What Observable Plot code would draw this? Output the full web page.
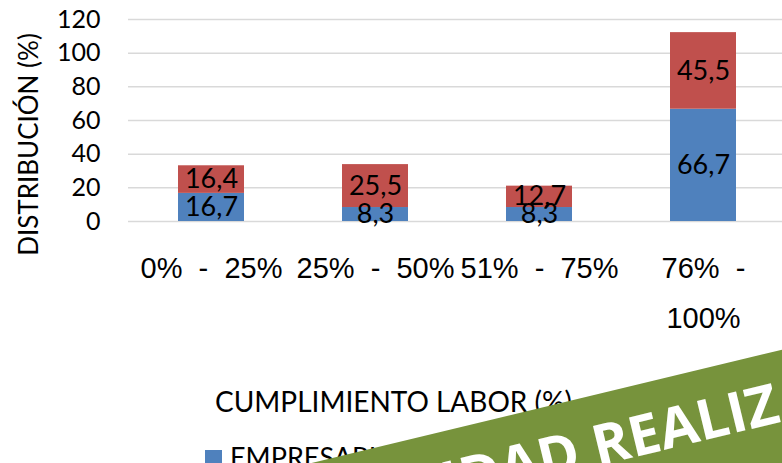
<!DOCTYPE html>
<html>
<head>
<meta charset="utf-8">
<script src="https://cdn.jsdelivr.net/npm/d3@7"></script>
<script src="https://cdn.jsdelivr.net/npm/@observablehq/plot@0.6"></script>
<style>
  html, body { margin: 0; padding: 0; background: #fff; }
  #wrap { position: relative; width: 782px; height: 463px; overflow: hidden; background: #fff; }
  #chart { position: absolute; left: 0; top: 0; }
  .legend { position: absolute; top: 440px; left: 205px; display: flex; align-items: center; font-family: Lato, sans-serif; font-size: 27px; color: #000; white-space: nowrap; }
  .legend .sw { width: 17px; height: 17px; margin-right: 8px; margin-top: 4px; }
  .legend .item { display: flex; align-items: center; margin-right: 26px; }
  .banner { position: absolute; left: 100px; top: 513.6px; width: 1000px; height: 220px; background: #77933c; transform: rotate(-13.55deg); transform-origin: 0 0; }
  .banner span { position: absolute; top: 20px; font-family: "Open Sans", sans-serif; font-weight: 700; font-size: 56px; line-height: 56px; color: #fff; white-space: nowrap; }
</style>
</head>
<body>
<div id="wrap">
  <div id="chart"></div>
  <div class="legend" id="legend"></div>
  <div class="banner"><span style="right:520px">ACTIVIDAD</span><span style="left:495px">REALIZADA</span></div>
</div>
<script>
const categories = ["0% - 25%", "25% - 50%", "51% - 75%", "76% - 100%"];
const tickLabels = ["0%\u00a0\u00a0-\u00a0\u00a025%", "25%\u00a0\u00a0-\u00a0\u00a050%", "51%\u00a0\u00a0-\u00a0\u00a075%", "76%\u00a0\u00a0-\n100%"];
const seriesNames = ["EMPRESARIOS", "EMPLEADOS"];
const empresarios = [16.7, 8.3, 8.3, 66.7];
const empleados = [16.4, 25.5, 12.7, 45.5];
const yTicks = [0, 20, 40, 60, 80, 100, 120];
const colors = ["#4f81bd", "#c0504d"];
const yTitle = "DISTRIBUCIÓN (%)";
const xTitle = "CUMPLIMIENTO LABOR (%)";

const data = [];
[empresarios, empleados].forEach((vals, s) => {
  vals.forEach((v, i) => data.push({cat: categories[i], series: seriesNames[s], value: v}));
});
const fmt = v => v.toFixed(1).replace(".", ",");

const H = 430;
const plot = Plot.plot({
  width: 782,
  height: H,
  marginTop: 19,
  marginBottom: H - 221,
  marginLeft: 128,
  marginRight: 0,
  style: {fontFamily: "Lato, sans-serif", fontSize: "25px", color: "#000", background: "transparent", overflow: "visible"},
  x: {domain: categories, range: [128.5, 784.5], paddingInner: 0.6, paddingOuter: 0.3},
  y: {domain: [0, 120]},
  color: {domain: seriesNames, range: colors},
  marks: [
    Plot.gridY(yTicks, {stroke: "#d9d9d9", strokeOpacity: 1, strokeWidth: 1.5}),
    Plot.barY(data, {x: "cat", y: "value", fill: "series"}),
    Plot.text(data, Plot.stackY({x: "cat", y: "value", z: "series", text: d => fmt(d.value), fontSize: 27, fill: "#000", fontFamily: "Lato, sans-serif"})),
    Plot.axisY(yTicks, {tickSize: 0, tickPadding: 28, fontSize: 25, label: null}),
    Plot.axisX({tickSize: 0, tickPadding: 21, fontSize: 29, fontFamily: "Liberation Sans", lineHeight: 1.72,
      tickFormat: d => tickLabels[categories.indexOf(d)], label: null}),
    Plot.text([yTitle], {frameAnchor: "left", textAnchor: "middle", dx: -99, dy: 24, rotate: -90, text: d => d, fontSize: 26, fill: "#000"}),
    Plot.text([xTitle], {frameAnchor: "bottom", textAnchor: "middle", dx: -62, dy: 190, text: d => d, fontSize: 28, fill: "#000"})
  ]
});
// x tick labels use an Arial-like face as in the reference
plot.querySelectorAll('[aria-label="x-axis tick label"]').forEach(g => {
  g.setAttribute("font-family", "'Liberation Sans', Arial, sans-serif");
  g.style.fontFamily = "'Liberation Sans', Arial, sans-serif";
});
document.getElementById("chart").appendChild(plot);

const legend = document.getElementById("legend");
seriesNames.forEach((name, i) => {
  const item = document.createElement("div");
  item.className = "item";
  const sw = document.createElement("div");
  sw.className = "sw";
  sw.style.background = colors[i];
  const t = document.createElement("span");
  t.textContent = name;
  item.appendChild(sw);
  item.appendChild(t);
  legend.appendChild(item);
});
</script>
</body>
</html>
